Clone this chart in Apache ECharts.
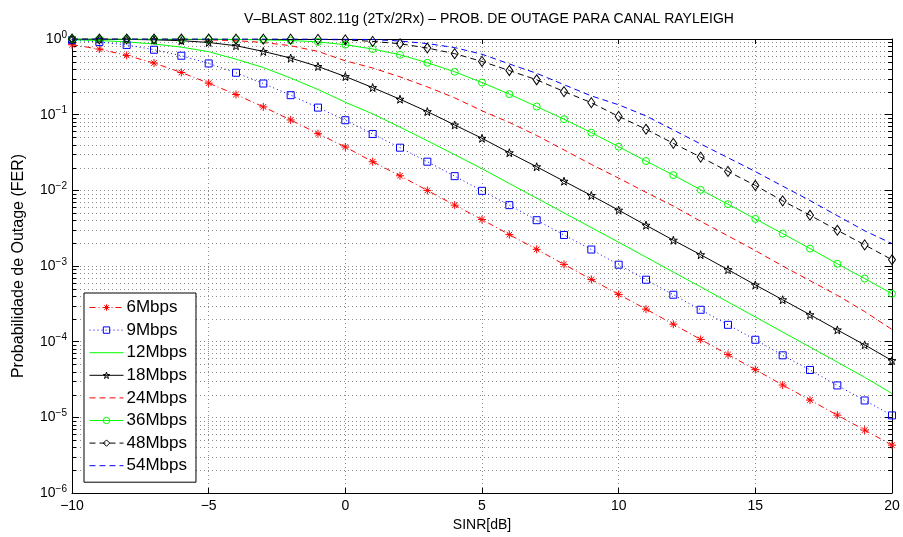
<!DOCTYPE html>
<html>
<head>
<meta charset="utf-8">
<script src="https://cdn.jsdelivr.net/npm/echarts@6/dist/echarts.min.js"></script>
<style>
  html, body { margin: 0; padding: 0; background: #fff; }
  #chart { width: 903px; height: 537px; }
</style>
</head>
<body>
<div id="chart"></div>
<script>
// SINR points (dB)
const sinr = [-10,-9,-8,-7,-6,-5,-4,-3,-2,-1,0,1,2,3,4,5,6,7,8,9,10,11,12,13,14,15,16,17,18,19,20];

// Outage probability (FER) per data rate
const fer6 = [0.84,0.737,0.607,0.481,0.361,0.261,0.1845,0.1267,0.0852,0.0561,0.0374,
  0.0239,0.01557,0.00997,0.00637,0.00411,0.0026,0.00166,0.00105,6.65e-4,4.21e-4,
  2.69e-4,1.70e-4,1.07e-4,6.75e-5,4.27e-5,2.67e-5,1.69e-5,1.07e-5,6.78e-6,4.29e-6];
const fer9 = [0.965,0.915,0.835,0.721,0.601,0.475,0.358,0.258,0.181,0.124,0.0844,
  0.0556,0.0366,0.0239,0.0154,0.00985,0.00637,0.00403,0.00257,0.00165,0.00104,
  6.59e-4,4.17e-4,2.64e-4,1.67e-4,1.06e-4,6.6e-5,4.23e-5,2.64e-5,1.67e-5,1.06e-5];
const fer12 = [0.975,0.955,0.915,0.86,0.78,0.68,0.54,0.42,0.305,0.215,0.146,
  0.1025,0.0684,0.0452,0.0296,0.0193,0.0123,0.0079,0.00504,0.00322,0.00206,
  0.00131,8.3e-4,5.3e-4,3.35e-4,2.12e-4,1.34e-4,8.5e-5,5.37e-5,3.38e-5,2.07e-5];
const fer18 = [0.998,0.996,0.99,0.975,0.95,0.90,0.815,0.685,0.56,0.433,0.319,
  0.228,0.160,0.1097,0.0731,0.0487,0.0314,0.0205,0.0132,0.00855,0.00547,
  0.00346,0.00219,0.00141,8.95e-4,5.62e-4,3.58e-4,2.27e-4,1.43e-4,9.07e-5,5.62e-5];
const fer24 = [0.9995,0.999,0.998,0.996,0.99,0.975,0.95,0.90,0.815,0.685,0.515,
  0.414,0.316,0.233,0.167,0.1125,0.079,0.0531,0.0342,0.0220,0.0145,
  0.0094,0.0062,0.0039,0.0025,0.0016,0.001,6.4e-4,4.1e-4,2.5e-4,1.45e-4];
const fer36 = [0.9999,0.9998,0.9995,0.999,0.997,0.994,0.988,0.975,0.955,0.915,0.84,
  0.737,0.619,0.485,0.369,0.266,0.1866,0.128,0.0871,0.0578,0.0377,
  0.0244,0.0159,0.01016,0.00656,0.00419,0.00268,0.0017,0.00107,6.82e-4,4.3e-4];
const fer48 = [0.99995,0.9999,0.9998,0.9996,0.9993,0.999,0.998,0.997,0.995,0.99,0.975,
  0.93,0.866,0.76,0.64,0.505,0.383,0.289,0.202,0.144,0.0948,
  0.0642,0.0418,0.0275,0.0178,0.0116,0.00726,0.00469,0.00297,0.0019,0.00121];
const fer54 = [1,1,1,0.9999,0.9998,0.9996,0.9993,0.999,0.998,0.996,0.995,
  0.985,0.94,0.87,0.77,0.629,0.468,0.352,0.249,0.177,0.135,
  0.0962,0.0628,0.041,0.027,0.0177,0.01137,0.00733,0.00462,0.00292,0.00198];

// Minor log grid values (2..9 in each decade)
const minorTicks = [];
for (let e = -6; e < 0; e++) {
  for (let m = 2; m <= 9; m++) minorTicks.push(m * Math.pow(10, e));
}

const pair = arr => sinr.map((x, i) => [x, arr[i]]);

// Marker outlines
const asteriskPath = 'path://M0,5 L10,5 M5,0 L5,10 M1.5,1.5 L8.5,8.5 M8.5,1.5 L1.5,8.5';
const starPath = (function () {
  const pts = [];
  for (let k = 0; k < 10; k++) {
    const r = (k % 2 === 0) ? 10 : 3.9;
    const a = -Math.PI / 2 + k * Math.PI / 5;
    pts.push((10 + r * Math.cos(a)).toFixed(2) + ',' + (10 + r * Math.sin(a)).toFixed(2));
  }
  return 'path://M' + pts.join(' L') + ' Z';
})();

const FONT = '"Liberation Sans", Arial, Helvetica, sans-serif';

const rateNames = ['6Mbps','9Mbps','12Mbps','18Mbps','24Mbps','36Mbps','48Mbps','54Mbps'];
const rateColors = ['#ff0000','#0000ff','#00ff00','#000000','#ff0000','#00ff00','#000000','#0000ff'];
const withMarker = [true, true, false, true, false, true, true, false];

function lineSeries(name, data, color, dash, symbol, size) {
  return {
    name: name,
    type: 'line',
    data: pair(data),
    color: color,
    symbol: symbol || 'none',
    symbolSize: size || 7,
    showSymbol: !!symbol,
    lineStyle: { color: color, width: 1, type: dash },
    itemStyle: { color: 'rgba(255,255,255,0)', borderColor: color, borderWidth: 1 },
    emphasis: { disabled: true },
    animation: false,
    z: 5
  };
}

const chart = echarts.init(document.getElementById('chart'), null, { renderer: 'canvas' });

// legend entries: hollow markers, or line only for marker-less curves
const legendData = rateNames.map((n, i) => ({
  name: n,
  itemStyle: withMarker[i]
    ? { color: 'rgba(255,255,255,0)', borderColor: rateColors[i], borderWidth: 1 }
    : { color: 'rgba(0,0,0,0)', borderColor: 'rgba(0,0,0,0)', borderWidth: 0 }
}));

const option = {
  backgroundColor: '#ffffff',
  animation: false,
  textStyle: { fontFamily: FONT },
  title: {
    text: 'V\u2013BLAST 802.11g (2Tx/2Rx) \u2013 PROB. DE OUTAGE PARA CANAL RAYLEIGH',
    left: 484, top: 7, textAlign: 'center',
    textStyle: { fontFamily: FONT, fontSize: 14, fontWeight: 'normal', color: '#000' }
  },
  grid: { left: 72, right: 11, top: 39, bottom: 44, containLabel: false },
  legend: {
    orient: 'vertical',
    left: 84, top: 293,
    backgroundColor: '#fff',
    borderColor: '#000', borderWidth: 1,
    padding: [6, 9, 8, 5],
    itemWidth: 34, itemHeight: 8, itemGap: 5.6,
    lineStyle: { width: 1 },
    textStyle: { fontFamily: FONT, fontSize: 17, color: '#000', padding: [0, 0, 0, -2] },
    data: legendData,
    selectedMode: false
  },
  xAxis: [{
    type: 'value', min: -10, max: 20, interval: 5,
    name: 'SINR[dB]', nameLocation: 'middle', nameGap: 23,
    nameTextStyle: { fontFamily: FONT, fontSize: 14, color: '#000' },
    axisLine: { onZero: false, lineStyle: { color: '#000', width: 1 } },
    axisTick: { inside: true, length: 5, lineStyle: { color: '#000' } },
    axisLabel: {
      fontFamily: FONT, fontSize: 14, color: '#000', margin: 6,
      formatter: v => (v < 0 ? '\u2212' + Math.abs(v) : String(v))
    },
    splitLine: { show: true, lineStyle: { color: '#8c8c8c', type: [1, 3], width: 1 } }
  }, {
    type: 'value', min: -10, max: 20, interval: 5, position: 'top',
    axisLine: { onZero: false, lineStyle: { color: '#000', width: 1 } },
    axisTick: { inside: true, length: 5, lineStyle: { color: '#000' } },
    axisLabel: { show: false }, splitLine: { show: false }
  }],
  yAxis: [{
    type: 'log', logBase: 10, min: 1e-6, max: 1,
    name: 'Probabilidade de Outage (FER)', nameLocation: 'middle', nameGap: 45,
    nameTextStyle: { fontFamily: FONT, fontSize: 16, color: '#000' },
    axisLine: { onZero: false, lineStyle: { color: '#000', width: 1 } },
    axisTick: { inside: true, length: 7, lineStyle: { color: '#000' } },
    axisLabel: {
      fontFamily: FONT, fontSize: 14, color: '#000', margin: 5,
      formatter: v => {
        const e = Math.round(Math.log10(v));
        return '10{sup|' + (e < 0 ? '\u2212' + Math.abs(e) : e) + '}';
      },
      rich: { sup: { fontFamily: FONT, fontSize: 10, verticalAlign: 'top', padding: [0, 0, 8, 0] } }
    },
    splitLine: { show: true, lineStyle: { color: '#8c8c8c', type: [1, 3], width: 1 } }
  }, {
    type: 'log', logBase: 10, min: 1e-6, max: 1, position: 'right',
    axisLine: { onZero: false, lineStyle: { color: '#000', width: 1 } },
    axisTick: { inside: true, length: 7, lineStyle: { color: '#000' } },
    axisLabel: { show: false }, splitLine: { show: false }
  }],
  series: [
    {
      // minor log grid: dotted lines plus short inward ticks on both sides
      name: 'minorGrid', type: 'custom', silent: true, z: 1,
      data: minorTicks.map(v => [-10, v]),
      renderItem: function (params, api) {
        const p = api.coord([-10, api.value(1)]);
        const cs = params.coordSys;
        const x0 = cs.x, x1 = cs.x + cs.width, y = Math.round(p[1]) + 0.5;
        return {
          type: 'group',
          children: [
            { type: 'line', shape: { x1: x0, y1: y, x2: x1, y2: y },
              style: { stroke: '#8c8c8c', lineWidth: 1, lineDash: [1, 3] } },
            { type: 'line', shape: { x1: x0, y1: y, x2: x0 + 4, y2: y },
              style: { stroke: '#000', lineWidth: 1 } },
            { type: 'line', shape: { x1: x1 - 4, y1: y, x2: x1, y2: y },
              style: { stroke: '#000', lineWidth: 1 } }
          ]
        };
      }
    },
    lineSeries('6Mbps', fer6, rateColors[0], [6, 3, 1, 3], asteriskPath, 8),
    lineSeries('9Mbps', fer9, rateColors[1], [1, 3], 'rect', 7),
    lineSeries('12Mbps', fer12, rateColors[2], 'solid'),
    lineSeries('18Mbps', fer18, rateColors[3], 'solid', starPath, 8),
    lineSeries('24Mbps', fer24, rateColors[4], [6, 4]),
    lineSeries('36Mbps', fer36, rateColors[5], 'solid', 'circle', 7),
    lineSeries('48Mbps', fer48, rateColors[6], [6, 4], 'diamond', [7, 10]),
    lineSeries('54Mbps', fer54, rateColors[7], [6, 4])
  ]
};

chart.setOption(option);
</script>
</body>
</html>
